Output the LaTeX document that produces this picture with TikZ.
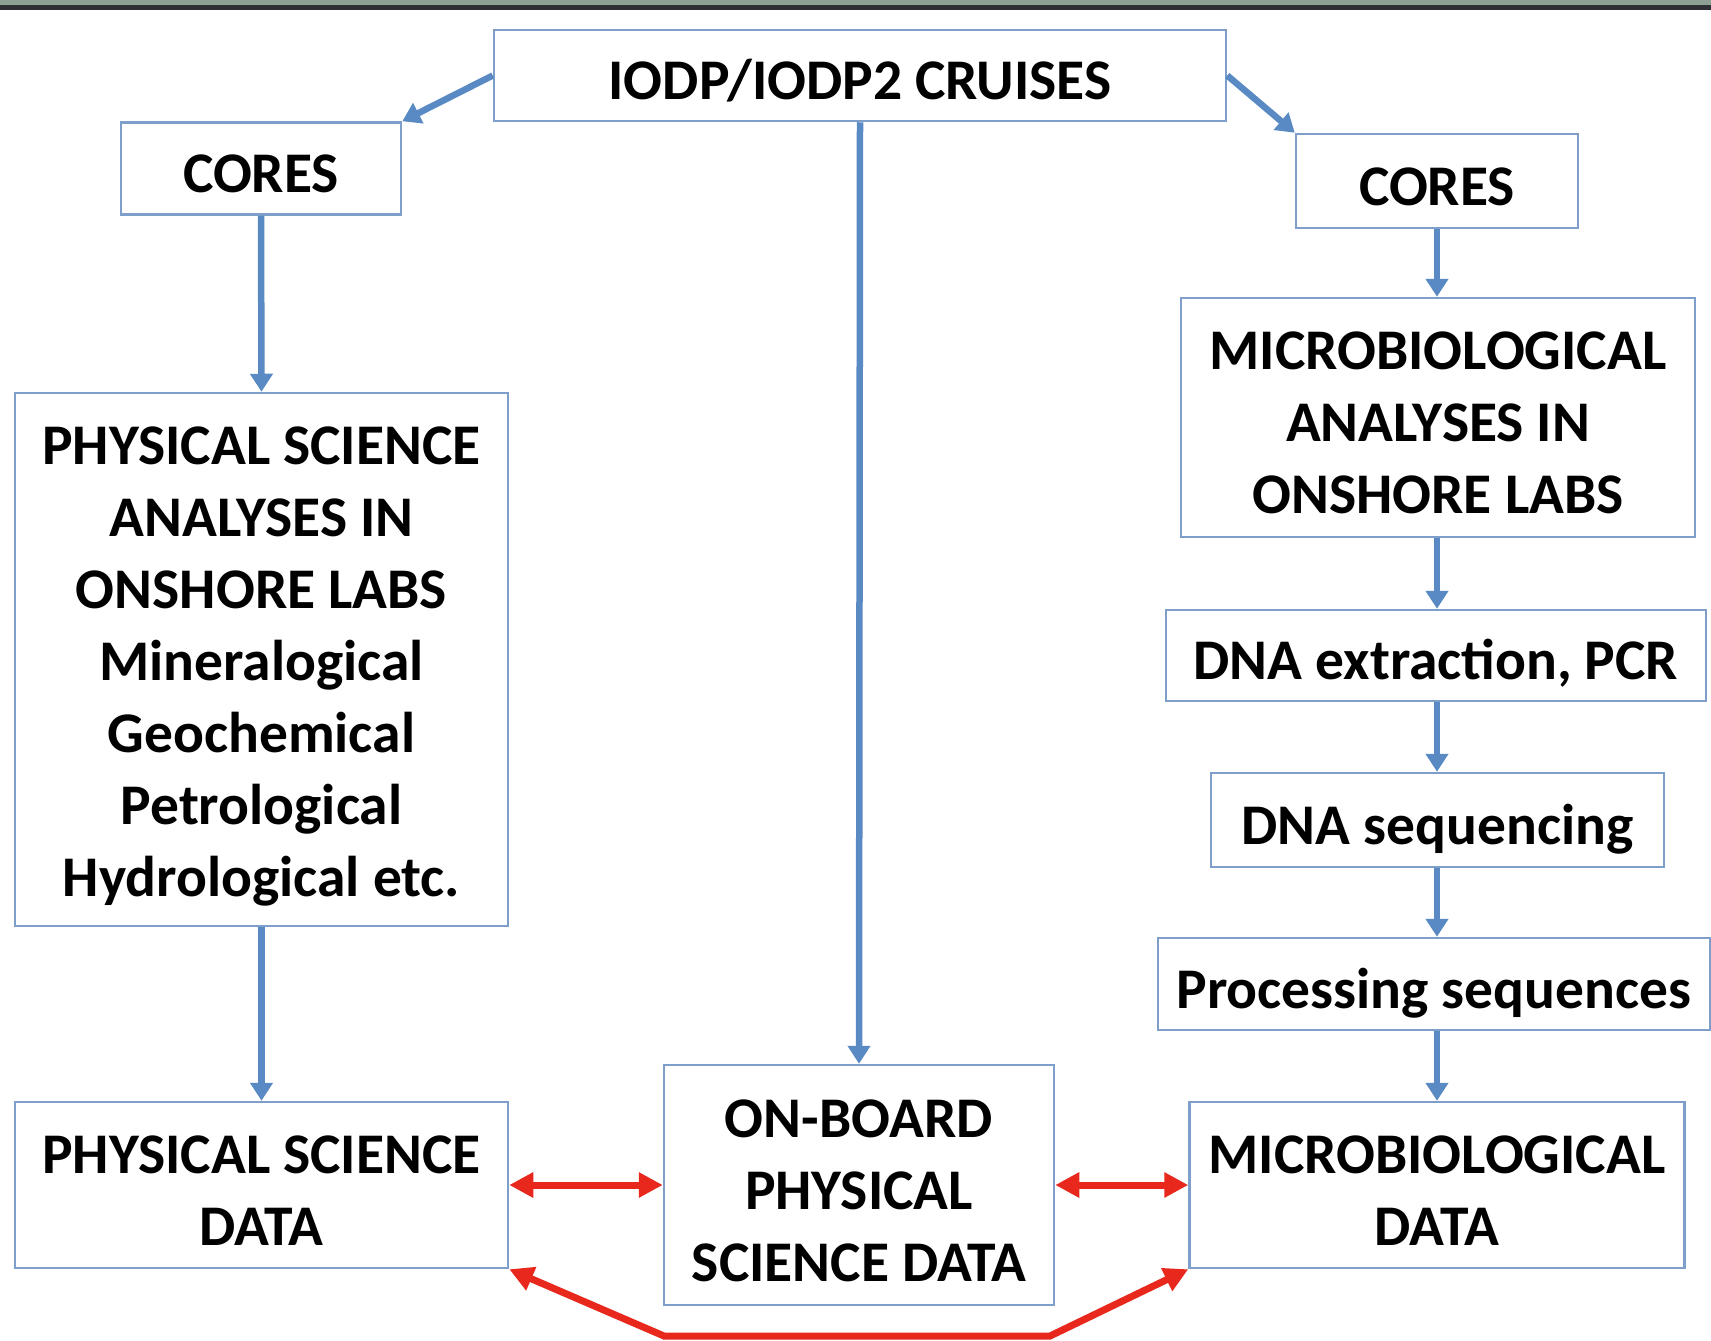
\documentclass[tikz,border=0pt]{standalone}
\usepackage{fontspec}
\setmainfont{Carlito}
\usetikzlibrary{arrows.meta}
\definecolor{boxblue}{HTML}{7F9FCB}
\definecolor{arrblue}{HTML}{5A8AC4}
\definecolor{arrred}{HTML}{E8281C}
\definecolor{bandgreen}{HTML}{8FA095}
\definecolor{banddark}{HTML}{2E3035}
\newcommand\ls{\rule[-12pt]{0pt}{72pt}}
\newcommand\lsa{\rule[-12pt]{0pt}{65pt}}
\tikzset{
  box/.style={draw=boxblue, line width=2.5pt, fill=white, align=center, inner sep=0pt,
    font=\bfseries\fontsize{57.5}{72}\selectfont, text=black},
  bluearrow/.style={draw=arrblue, line width=6.5pt, -{Triangle[width=22pt,length=18pt]}},
  redarrow/.style={draw=arrred, line width=7pt, {Triangle[width=24pt,length=24pt]}-{Triangle[width=24pt,length=24pt]}}
}
\begin{document}
\begin{tikzpicture}[x=1pt,y=-1pt]
\useasboundingbox (0,0) rectangle (1711,1341);
\fill[white] (0,0) rectangle (1711,1341);
\fill[bandgreen] (0,0) rectangle (1711,5);
\fill[banddark] (0,5) rectangle (1711,10);

\node[box, minimum width=732pt, minimum height=91pt] (iodp) at (860,75.5) {\ls IODP/IODP2 CRUISES\ls};
\node[box, minimum width=280pt, minimum height=92pt] (coresL) at (261,168.5) {\ls CORES\ls};
\node[box, minimum width=282pt, minimum height=94pt] (coresR) at (1437,181) {\ls CORES\ls};
\node[box, minimum width=493pt, minimum height=533pt] (psa) at (261.5,659.5)
  {\lsa PHYSICAL SCIENCE\\ANALYSES IN\\ONSHORE LABS\\Mineralogical\\Geochemical\\Petrological\\Hydrological etc.\ls};
\node[box, minimum width=514pt, minimum height=239pt] (ma) at (1438,417.5)
  {\ls MICROBIOLOGICAL\\ANALYSES IN\\ONSHORE LABS\ls};
\node[box, minimum width=540pt, minimum height=91pt] (dnaext) at (1436,655.5) {\ls DNA extraction, PCR\ls};
\node[box, minimum width=453pt, minimum height=94pt] (dnaseq) at (1437.5,820) {\ls DNA sequencing\ls};
\node[box, minimum width=552pt, minimum height=92pt] (proc) at (1434,984) {\ls Processing sequences\ls};
\node[box, minimum width=493pt, minimum height=166pt] (psd) at (261.5,1185) {\ls PHYSICAL SCIENCE\\DATA\ls};
\node[box, minimum width=390pt, minimum height=240pt] (onboard) at (859,1185) {\ls ON-BOARD\\PHYSICAL\\SCIENCE DATA\ls};
\node[box, minimum width=495pt, minimum height=166pt] (md) at (1437,1185) {\ls MICROBIOLOGICAL\\DATA\ls};

\draw[bluearrow] (iodp.west) -- (coresL.north east);
\draw[bluearrow] (iodp.east) -- (coresR.north west);
\draw[bluearrow] (iodp.south) -- (onboard.north);
\draw[bluearrow] (coresL.south) -- (psa.north);
\draw[bluearrow] (psa.south) -- (psd.north);
\draw[bluearrow] (coresR.south) -- (ma.north -| coresR.south);
\draw[bluearrow] (ma.south -| coresR.south) -- (dnaext.north -| coresR.south);
\draw[bluearrow] (dnaext.south -| coresR.south) -- (dnaseq.north -| coresR.south);
\draw[bluearrow] (dnaseq.south -| coresR.south) -- (proc.north -| coresR.south);
\draw[bluearrow] (proc.south -| coresR.south) -- (md.north -| coresR.south);

\draw[redarrow] (psd.east) -- (onboard.west);
\draw[redarrow] (onboard.east) -- (md.west);
\coordinate (rb1) at (664,1336);
\coordinate (rb2) at (1050,1336);
\draw[redarrow, line join=miter] (psd.south east) -- (rb1) -- (rb2) -- (md.south west);
\end{tikzpicture}
\end{document}
